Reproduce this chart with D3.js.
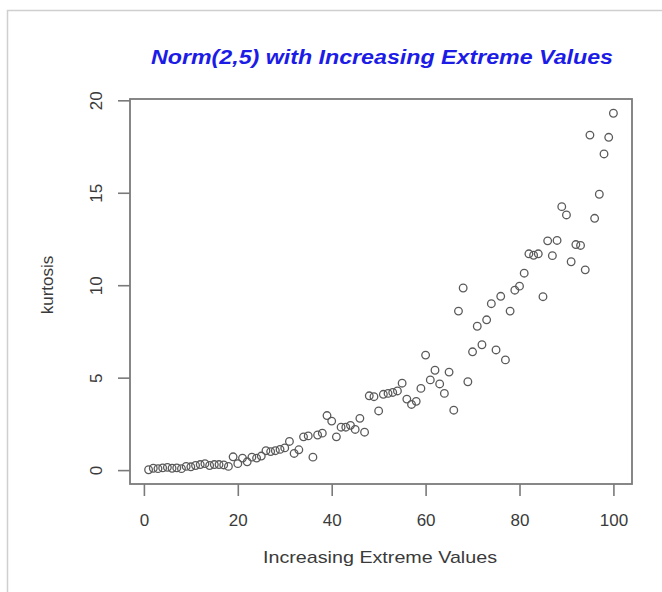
<!DOCTYPE html>
<html>
<head>
<meta charset="utf-8">
<script src="https://cdn.jsdelivr.net/npm/d3@7"></script>
<style>
  body { margin: 0; background: #fff; }
  text { font-family: "Liberation Sans", Arial, sans-serif; }
</style>
</head>
<body>
<div id="chart"></div>
<script>
// kurtosis for samples 1..100 with increasing extreme values
const index = d3.range(1, 101);
const kurtosis = [
  0.02, 0.10, 0.08, 0.12, 0.15, 0.10, 0.12, 0.08, 0.20, 0.18,
  0.25, 0.30, 0.35, 0.25, 0.30, 0.30, 0.28, 0.20, 0.72, 0.35,
  0.65, 0.45, 0.70, 0.65, 0.76, 1.05, 1.00, 1.05, 1.12, 1.20,
  1.55, 0.90, 1.10, 1.80, 1.85, 0.70, 1.90, 2.00, 2.95, 2.65,
  1.80, 2.32, 2.32, 2.42, 2.20, 2.80, 2.05, 4.02, 3.97, 3.20,
  4.10, 4.15, 4.20, 4.28, 4.70, 3.84, 3.55, 3.72, 4.42, 6.22,
  4.88, 5.40, 4.66, 4.15, 5.30, 3.24, 8.60, 9.85, 4.78, 6.40,
  7.78, 6.78, 8.13, 9.00, 6.50, 9.40, 5.96, 8.60, 9.73, 9.95,
  10.65, 11.70, 11.62, 11.70, 9.38, 12.40, 11.60, 12.42, 14.25, 13.80,
  11.27, 12.20, 12.15, 10.83, 18.12, 13.62, 14.92, 17.10, 18.00, 19.30
];
const xTicks = [0, 20, 40, 60, 80, 100];
const yTicks = [0, 5, 10, 15, 20];

const title = 'Norm(2,5) with Increasing Extreme Values';
const xLabel = 'Increasing Extreme Values';
const yLabel = 'kurtosis';

const width = 662, height = 592;
const box = { left: 130, right: 632, top: 99, bottom: 484 };

const svg = d3.select('#chart')
    .append('svg')
    .attr('width', width)
    .attr('height', height);

// outer picture frame
svg.append('path')
    .attr('d', `M7.5,${height}V10.5H${width}`)
    .attr('fill', 'none')
    .attr('stroke', '#cfcfcf')
    .attr('stroke-width', 1.5);

// R style 4% padding around the data range
const pad = (ext) => {
    const r = ext[1] - ext[0];
    return [ext[0] - 0.04 * r, ext[1] + 0.04 * r];
};

const x = d3.scaleLinear()
    .domain(pad(d3.extent(index)))
    .range([box.left, box.right]);

const y = d3.scaleLinear()
    .domain(pad(d3.extent(kurtosis)))
    .range([box.bottom, box.top]);

const axisColor = '#7a7a7a';
const textColor = '#3a3a3a';

// x axis
const gx = svg.append('g')
    .attr('transform', `translate(0,${box.bottom})`)
    .call(d3.axisBottom(x).tickValues(xTicks).tickSize(12).tickPadding(18));
gx.select('.domain').remove();
gx.selectAll('.tick line').attr('stroke', axisColor).attr('stroke-width', 1.6);
gx.selectAll('.tick text')
    .attr('fill', textColor)
    .style('font-size', '17px');

// y axis, labels rotated like base R
const gy = svg.append('g')
    .attr('transform', `translate(${box.left},0)`)
    .call(d3.axisLeft(y).tickValues(yTicks).tickSize(12));
gy.select('.domain').remove();
gy.selectAll('.tick line').attr('stroke', axisColor).attr('stroke-width', 1.6);
gy.selectAll('.tick text')
    .attr('x', null)
    .attr('dy', null)
    .attr('transform', 'translate(-34,0) rotate(-90)')
    .attr('text-anchor', 'middle')
    .attr('dominant-baseline', 'central')
    .attr('fill', textColor)
    .style('font-size', '17px');

// plot box
svg.append('rect')
    .attr('x', box.left)
    .attr('y', box.top)
    .attr('width', box.right - box.left)
    .attr('height', box.bottom - box.top)
    .attr('fill', 'none')
    .attr('stroke', axisColor)
    .attr('stroke-width', 1.8);

// points
svg.append('g')
    .selectAll('circle')
    .data(kurtosis)
    .join('circle')
    .attr('cx', (d, i) => x(index[i]))
    .attr('cy', d => y(d))
    .attr('r', 3.8)
    .attr('fill', 'none')
    .attr('stroke', '#5a5a5a')
    .attr('stroke-width', 1.3);

// title and axis labels
svg.append('text')
    .attr('x', 382)
    .attr('y', 64)
    .attr('text-anchor', 'middle')
    .attr('textLength', 462)
    .attr('lengthAdjust', 'spacingAndGlyphs')
    .attr('fill', '#1c1ce6')
    .style('font-size', '20px')
    .style('font-weight', 'bold')
    .style('font-style', 'italic')
    .text(title);

svg.append('text')
    .attr('x', 380)
    .attr('y', 563)
    .attr('text-anchor', 'middle')
    .attr('textLength', 234)
    .attr('lengthAdjust', 'spacingAndGlyphs')
    .attr('fill', textColor)
    .style('font-size', '17px')
    .text(xLabel);

svg.append('text')
    .attr('transform', 'translate(47,285) rotate(-90)')
    .attr('text-anchor', 'middle')
    .attr('dominant-baseline', 'central')
    .attr('fill', textColor)
    .style('font-size', '17px')
    .text(yLabel);
</script>
</body>
</html>
